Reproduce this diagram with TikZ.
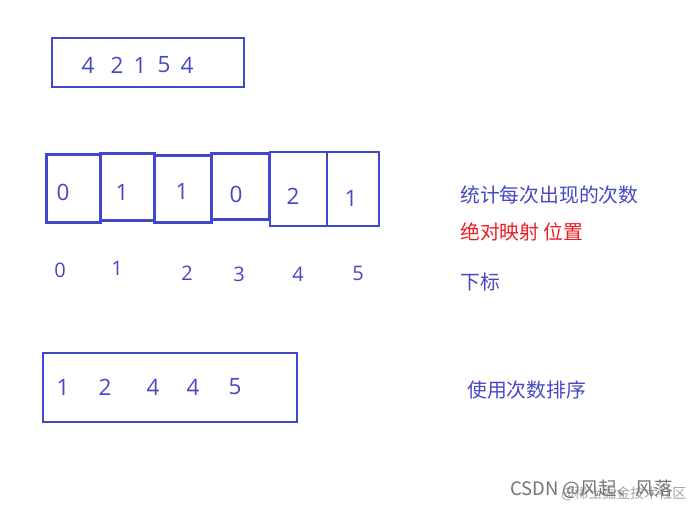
\documentclass[tikz,border=0pt]{standalone}
\usepackage{fontspec}
\setmainfont{Noto Sans CJK SC}
\newfontfamily\digfont{Open Sans}
\begin{document}
\begin{tikzpicture}[x=1pt,y=-1pt,
  inkblue/.style={draw=pblue},
  dig/.style={inner sep=0pt,text=tblue,font=\digfont\fontsize{22.5}{22.5}\selectfont},
  idx/.style={inner sep=0pt,text=tblue,font=\digfont\fontsize{20}{20}\selectfont},
  note/.style={inner sep=0pt,anchor=west,font=\fontsize{19.8}{20}\selectfont},
]
\definecolor{pblue}{RGB}{63,72,204}
\definecolor{tblue}{RGB}{70,72,196}
\definecolor{pred}{RGB}{237,28,36}
\useasboundingbox[fill=white] (0,0) rectangle (696,507);
% top input box
\draw[inkblue,line width=2.5pt] (52,38) rectangle (244,87);
\foreach \x/\d [count=\i] in {88/4,117/2,140/1,164/5,187/4}
  \node[dig] (in\i) at (\x,65) {\d};
% count cells
\draw[inkblue,line width=3pt] (46,154) rectangle (100,222);
\draw[inkblue,line width=3pt] (100,153) rectangle (154,220);
\draw[inkblue,line width=3pt] (154,155) rectangle (211,222);
\draw[inkblue,line width=3pt] (211,153) rectangle (269,219);
\draw[inkblue,line width=2pt] (270,152) rectangle (327,226);
\draw[inkblue,line width=2pt] (327,152) rectangle (379,226);
\node[dig] (c0) at (63,192) {0};
\node[dig] (c1) at (122,192) {1};
\node[dig] (c2) at (182,191) {1};
\node[dig] (c3) at (236,194) {0};
\node[dig] (c4) at (293,196) {2};
\node[dig] (c5) at (351,198) {1};
% indices
\node[idx] (i0) at (60,270) {0};
\node[idx] (i1) at (117,268) {1};
\node[idx] (i2) at (187,273) {2};
\node[idx] (i3) at (239,274) {3};
\node[idx] (i4) at (298,274) {4};
\node[idx] (i5) at (358,273) {5};
% sorted output box
\draw[inkblue,line width=2.5pt] (43,353) rectangle (297,422);
\foreach \x/\d [count=\i] in {63/1,105/2,153/4,193/4,235/5}
  \node[dig] (out\i) at (\x,387) {\d};
% notes
\node[note,text=tblue] (n1) at (460,195) {统计每次出现的次数};
\node[note,text=pred] (n2) at (460,232) {绝对映射 位置};
\node[note,text=tblue] (n3) at (460,282) {下标};
\node[note,text=tblue] (n4) at (467,390) {使用次数排序};
% watermark
\node[inner sep=0pt,anchor=west,text=black!35,font=\fontsize{14}{14}\selectfont] (w2) at (561,494) {@稀土掘金技术社区};
\node[inner sep=0pt,anchor=west,text=black!55,font=\fontsize{18.5}{18.5}\selectfont] (w1) at (510,489) {CSDN @风起、风落};
\end{tikzpicture}
\end{document}
